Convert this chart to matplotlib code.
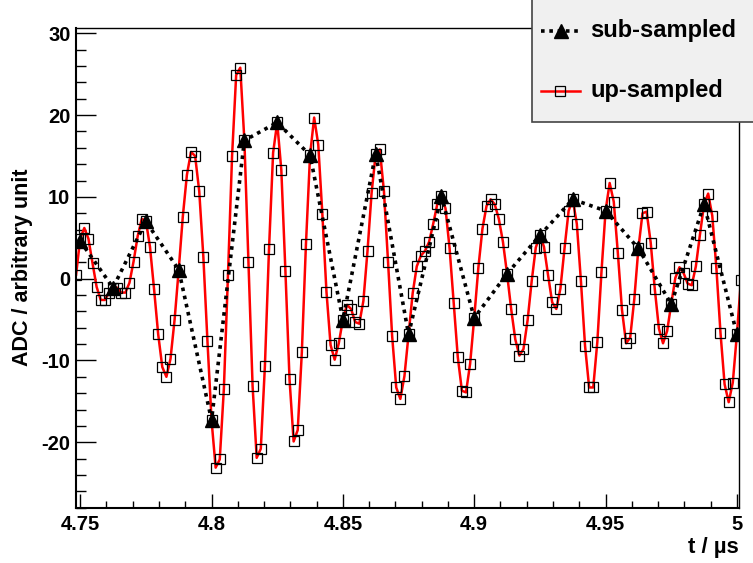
import numpy as np
import matplotlib.pyplot as plt
from matplotlib.patches import Rectangle
from matplotlib.lines import Line2D
from matplotlib.ticker import MultipleLocator

plt.rcParams['font.family'] = ['Liberation Sans', 'DejaVu Sans']
plt.rcParams['font.weight'] = 'bold'
plt.rcParams['axes.unicode_minus'] = False

# 80 MHz samples and the 8x up-sampled trace (ADC counts)
t0 = 4.75
dt_sub = 0.0125
dt_up = dt_sub / 8

sub_vals = [4.6, -1.1, 7.0, 1.1, -17.3, 16.9, 19.1, 15.1, -5.0, 15.3, -6.8,
            10.1, -4.8, 0.6, 5.3, 9.7, 8.3, 3.7, -3.1, 9.1, -6.8]

up_vals = [0.5,
           4.9, 6.2, 4.9, 1.9, -1.0, -2.6, -2.6, -1.7,
           -1.1, -1.1, -1.7, -1.7, -0.5, 2.1, 5.2, 7.3,
           7.1, 3.9, -1.3, -6.8, -10.8, -12.0, -9.8, -5.0,
           1.1, 7.6, 12.7, 15.5, 15.0, 10.7, 2.7, -7.6,
           -17.3, -23.1, -22.1, -13.5, 0.4, 15.0, 24.9, 25.8,
           16.9, 2.0, -13.1, -21.9, -20.8, -10.7, 3.6, 15.4,
           19.1, 13.3, 0.9, -12.3, -19.9, -18.5, -9.0, 4.2,
           15.1, 19.7, 16.4, 7.9, -1.6, -8.1, -9.9, -7.9,
           -5.0, -3.2, -3.7, -5.3, -5.5, -2.7, 3.4, 10.5,
           15.3, 15.8, 10.7, 2.1, -7.0, -13.3, -14.7, -11.9,
           -6.8, -1.8, 1.5, 2.8, 3.4, 4.5, 6.7, 9.1,
           10.1, 8.6, 3.7, -3.0, -9.6, -13.7, -13.9, -10.4,
           -4.8, 1.3, 6.1, 8.9, 9.7, 9.1, 7.3, 4.5,
           0.6, -3.7, -7.4, -9.4, -8.6, -5.1, -0.3, 3.8,
           5.3, 3.9, 0.4, -2.9, -3.7, -1.2, 3.7, 8.3,
           9.7, 6.7, -0.3, -8.2, -13.3, -13.3, -7.7, 0.8,
           8.3, 11.7, 9.4, 3.1, -3.8, -7.9, -7.2, -2.5,
           3.7, 8.0, 8.2, 4.4, -1.3, -6.1, -7.9, -6.4,
           -3.1, 0.1, 1.4, 0.7, -0.6, -0.8, 1.5, 5.4,
           9.1, 10.4, 7.7, 1.3, -6.6, -12.9, -15.1, -12.7,
           -6.8, -0.1]

t_sub = t0 + dt_sub * np.arange(len(sub_vals))
t_up = t0 + dt_up * (np.arange(len(up_vals)) - 1)

fig = plt.figure(figsize=(7.53, 5.63), dpi=100)
ax = fig.add_axes([76 / 753, 1 - 507.7 / 563, 663 / 753, 479.7 / 563])

ax.plot(t_up, up_vals, color='red', lw=1.8, marker='s', ms=6.5,
        mfc='none', mec='black', mew=0.9, zorder=2)
ax.plot(t_sub, sub_vals, color='black', lw=2.6, ls=(0, (1, 1.3)),
        marker='^', ms=10, mfc='black', mec='black', zorder=3)

ax.set_xlim(4.7484, 5.0008)
ax.set_ylim(-28.0, 30.65)

ax.xaxis.set_major_locator(MultipleLocator(0.05))
ax.xaxis.set_minor_locator(MultipleLocator(0.01))
ax.yaxis.set_major_locator(MultipleLocator(10))
ax.yaxis.set_minor_locator(MultipleLocator(2))
ax.set_xticks([4.75, 4.8, 4.85, 4.9, 4.95, 5.0])
ax.set_xticklabels(['4.75', '4.8', '4.85', '4.9', '4.95', '5'])

ax.tick_params(axis='x', which='major', direction='in', length=10, width=1,
               labelsize=14.5, pad=5)
ax.tick_params(axis='x', which='minor', direction='in', length=5, width=1)
ax.tick_params(axis='y', which='major', direction='in', length=14.5, width=1,
               labelsize=14.5, pad=4)
ax.tick_params(axis='y', which='minor', direction='in', length=7, width=1)
for lab in ax.get_xticklabels() + ax.get_yticklabels():
    lab.set_fontweight('bold')

for s in ['left', 'bottom']:
    ax.spines[s].set_linewidth(1.5)
for s in ['top', 'right']:
    ax.spines[s].set_linewidth(1.0)

fig.text(739 / 753, 1 - 547 / 563, 't / \u00b5s', ha='right', va='center',
         fontsize=16, fontweight='bold')
fig.text(23 / 753, 1 - 267.5 / 563, 'ADC / arbitrary unit', rotation=90,
         ha='center', va='center', fontsize=15.5, fontweight='bold')

# legend box
fig.patches.append(Rectangle((532 / 753, 1 - 121.5 / 563), 230 / 753, 125 / 563,
                             transform=fig.transFigure, facecolor='#f0f0f0',
                             edgecolor='#444444', lw=1.2, zorder=5))
y1 = 1 - 31 / 563
y2 = 1 - 91 / 563
fig.lines.append(Line2D([541 / 753, 580 / 753], [y1, y1], transform=fig.transFigure,
                        color='black', lw=2.6, ls=(0, (1, 1.3)), zorder=6))
fig.lines.append(Line2D([561 / 753], [y1], transform=fig.transFigure,
                        marker='^', ms=10, color='black', zorder=7))
fig.lines.append(Line2D([541 / 753, 580 / 753], [y2, y2], transform=fig.transFigure,
                        color='red', lw=1.8, zorder=6))
fig.lines.append(Line2D([560 / 753], [y2], transform=fig.transFigure,
                        marker='s', ms=6.5, mfc='none', mec='black', mew=0.9, zorder=7))
fig.text(590 / 753, y1, 'sub-sampled', ha='left', va='center',
         fontsize=17, fontweight='bold', zorder=8)
fig.text(590 / 753, y2, 'up-sampled', ha='left', va='center',
         fontsize=17, fontweight='bold', zorder=8)

fig.savefig('out.png', dpi=100)
